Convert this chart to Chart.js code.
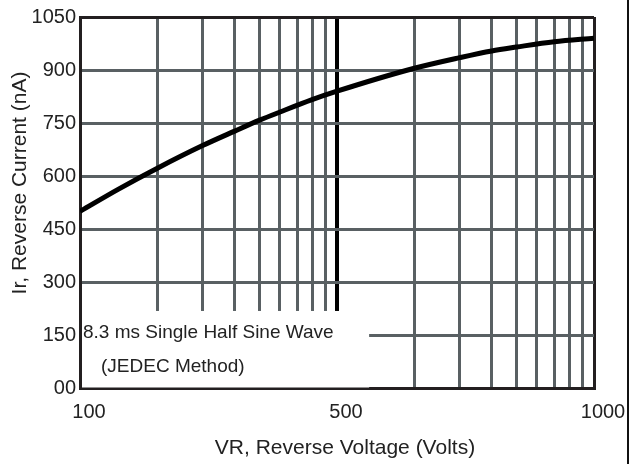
<!DOCTYPE html>
<html>
<head>
<meta charset="utf-8">
<script src="https://cdn.jsdelivr.net/npm/chart.js@4/dist/chart.umd.min.js"></script>
<style>
  body { margin: 0; background: #fff; }
  #wrap { position: relative; width: 638px; height: 464px; }
  #edge { position: absolute; left: 627px; top: 0; width: 2px; height: 464px; background: #111; }
</style>
</head>
<body>
<div id="wrap">
  <canvas id="chart" width="638" height="464"></canvas>
  <div id="edge"></div>
</div>
<script>
// x is in grid units: 0 = "100", 1 = "500", 2 = "1000" (two log-style cycles)
const curveX = [0, 0.15, 0.301, 0.477, 0.602, 0.699, 0.778, 0.903, 1.0, 1.301, 1.477, 1.602, 1.699, 1.845, 2.0];
const curveY = [500, 563, 622, 686, 727, 758, 781, 816, 840, 905, 935, 954, 965, 980, 990];

const xLabelPos = [0, 1, 2];
const xLabels = ['100', '500', '1000'];
const yTicks = [0, 150, 300, 450, 600, 750, 900, 1050];
const yLabels = ['00', '150', '300', '450', '600', '750', '900', '1050'];

const note1 = '8.3 ms Single Half Sine Wave';
const note2 = '(JEDEC Method)';
const xTitle = 'VR, Reverse Voltage (Volts)';
const yTitle = 'Ir, Reverse Current (nA)';

// vertical grid lines: log spacing repeated over both cycles
let gridX = [];
for (let c = 0; c < 2; c++) {
    for (let k = 1; k < 10; k++) gridX.push(c + Math.log10(k));
}
gridX.push(2);

const FONT = '"Liberation Sans", Arial, sans-serif';
const GRID = '#596063';
const DARK = '#231f20';

// white box behind the note, in data units
const boxRight = 1.125;
const boxTop = 218;

const notePlugin = {
    id: 'notePlugin',
    beforeDatasetsDraw(chart) {
        const { ctx, chartArea, scales } = chart;
        const x1 = scales.x.getPixelForValue(boxRight);
        const y1 = scales.y.getPixelForValue(boxTop);
        ctx.save();
        ctx.fillStyle = '#fff';
        ctx.fillRect(chartArea.left + 2, y1, x1 - chartArea.left - 2, chartArea.bottom - y1 - 0.5);
        ctx.restore();
    },
    afterDraw(chart) {
        const { ctx } = chart;
        ctx.save();
        ctx.fillStyle = '#222';
        ctx.textBaseline = 'alphabetic';
        ctx.font = '19px ' + FONT;
        ctx.fillText(note1, 83, 338);
        ctx.fillText(note2, 101, 372);

        ctx.font = '21px ' + FONT;
        ctx.textAlign = 'center';
        ctx.textBaseline = 'middle';
        ctx.fillText(xTitle, 345, 448);
        ctx.translate(20, 183);
        ctx.rotate(-Math.PI / 2);
        ctx.fillText(yTitle, 0, 0);
        ctx.restore();
    }
};

new Chart(document.getElementById('chart'), {
    type: 'line',
    data: {
        datasets: [{
            data: curveX.map((x, i) => ({ x: x, y: curveY[i] })),
            borderColor: '#000',
            borderWidth: 5,
            pointRadius: 0,
            cubicInterpolationMode: 'monotone',
            fill: false
        }]
    },
    options: {
        responsive: false,
        animation: false,
        layout: { padding: { top: 17, right: 44, left: 0, bottom: 0 } },
        plugins: { legend: { display: false }, tooltip: { enabled: false } },
        scales: {
            x: {
                type: 'linear',
                min: 0,
                max: 2,
                afterBuildTicks: s => { s.ticks = gridX.map(v => ({ value: v })); },
                afterFit: s => { s.height = 76; },
                grid: {
                    drawTicks: false,
                    color: c => {
                        const v = c.tick.value;
                        if (Math.abs(v - 1) < 1e-6) return '#000';
                        if (v < 1e-6 || v > 2 - 1e-6) return DARK;
                        return GRID;
                    },
                    lineWidth: c => (Math.abs(c.tick.value - 1) < 1e-6 ? 4 : 3)
                },
                border: { color: DARK, width: 3 },
                ticks: {
                    autoSkip: false,
                    maxRotation: 0,
                    padding: 12,
                    labelOffset: 9,
                    color: '#222',
                    font: { family: FONT, size: 20 },
                    callback: v => {
                        const i = xLabelPos.findIndex(p => Math.abs(p - v) < 1e-6);
                        return i >= 0 ? xLabels[i] : '';
                    }
                }
            },
            y: {
                min: 0,
                max: 1050,
                afterBuildTicks: s => { s.ticks = yTicks.map(v => ({ value: v })); },
                afterFit: s => { s.width = 80; },
                grid: {
                    drawTicks: false,
                    color: c => (c.tick.value === 1050 ? DARK : GRID),
                    lineWidth: 3
                },
                border: { color: DARK, width: 3 },
                ticks: {
                    padding: 4,
                    color: '#222',
                    font: { family: FONT, size: 20 },
                    callback: (v, i) => yLabels[i]
                }
            }
        }
    },
    plugins: [notePlugin]
});
</script>
</body>
</html>
